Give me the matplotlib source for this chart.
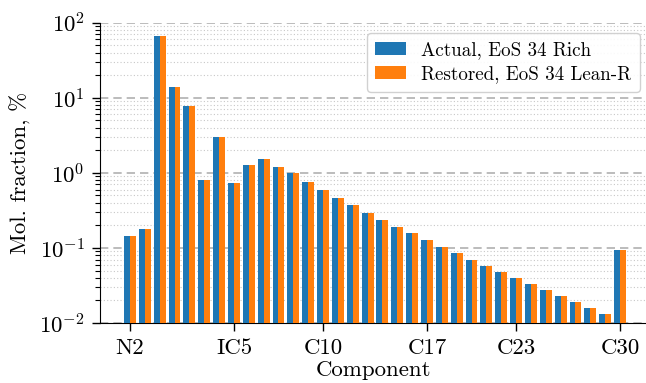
import numpy as np
import matplotlib
matplotlib.use("Agg")
import matplotlib.pyplot as plt

plt.rcParams['font.family'] = 'serif'
plt.rcParams['font.serif'] = ['cmr10']
plt.rcParams['mathtext.fontset'] = 'cm'
plt.rcParams['axes.formatter.use_mathtext'] = True
plt.rcParams['font.size'] = 16.5

components = ["N2", "CO2", "C1", "C2", "C3", "IC4", "NC4", "IC5", "NC5"] + [f"C{i}" for i in range(6, 31)]
actual = [0.144, 0.177, 66.5, 13.8, 7.8, 0.805, 3.03, 0.726, 1.27, 1.52, 1.19, 1.0,
          0.757, 0.597, 0.468, 0.370, 0.295, 0.236, 0.190, 0.157, 0.126, 0.103, 0.085,
          0.070, 0.058, 0.048, 0.040, 0.0329, 0.0276, 0.0230, 0.0191, 0.0160, 0.0133, 0.093]
restored = [0.144, 0.177, 66.5, 13.8, 7.8, 0.805, 3.03, 0.726, 1.27, 1.52, 1.19, 1.0,
            0.757, 0.597, 0.468, 0.370, 0.295, 0.236, 0.190, 0.157, 0.126, 0.103, 0.085,
            0.070, 0.058, 0.048, 0.040, 0.0329, 0.0276, 0.0230, 0.0191, 0.0160, 0.0133, 0.093]
tick_labels = ["N2", "IC5", "C10", "C17", "C23", "C30"]

x = np.arange(len(components))
w = 0.4

fig = plt.figure(figsize=(6.46, 3.83), dpi=100)
ax = fig.add_axes([0.1548, 0.1567, 1.0 - 0.1548, 0.9407 - 0.1567])

ax.bar(x - w / 2, actual, width=w, color="#1f77b4", label="Actual, EoS 34 Rich", zorder=3)
ax.bar(x + w / 2, restored, width=w, color="#ff7f0e", label="Restored, EoS 34 Lean-R", zorder=3)

ax.set_yscale("log")
ax.set_ylim(1e-2, 1e2)
ax.set_xlim(-2.02, 34.75)

tick_pos = [components.index(t) for t in tick_labels]
ax.set_xticks(tick_pos)
ax.set_xticklabels(tick_labels)
ax.tick_params(which="major", length=6, width=1.0, labelsize=16.5, pad=5)
ax.tick_params(which="minor", length=3.5, width=0.8)

ax.grid(which="major", axis="y", linestyle=(0, (5, 3)), color="#b0b0b0", linewidth=1.2, zorder=0)
ax.grid(which="minor", axis="y", linestyle=(0, (1, 2)), color="#c8c8c8", linewidth=0.8, zorder=0)

for s in ["top", "right"]:
    ax.spines[s].set_visible(False)

ax.set_xlabel("Component", labelpad=2)
ax.set_ylabel("Mol. fraction, %", labelpad=6)
ax.legend(loc="upper right", bbox_to_anchor=(1.006, 0.998), fontsize=13.7, framealpha=0.9,
          handlelength=1.6, borderpad=0.45, labelspacing=0.3)

fig.savefig("out.png", dpi=100)
